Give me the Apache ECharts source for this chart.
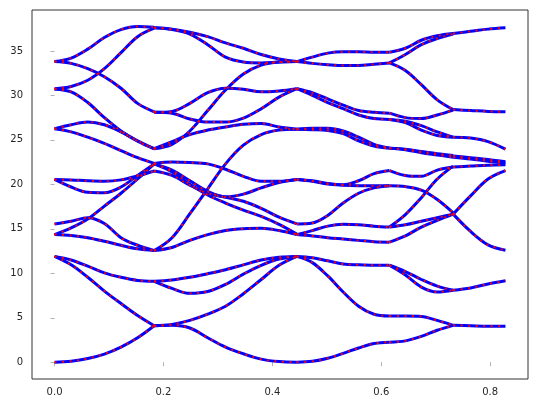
<!DOCTYPE html>
<html>
<head>
<meta charset="utf-8">
<script src="https://cdn.jsdelivr.net/npm/echarts@6/dist/echarts.min.js"></script>
<style>html,body{margin:0;padding:0;background:#fff}#c{width:538px;height:409px}</style>
</head>
<body>
<div id="c"></div>
<script>
// path breakpoints (x) of the band segments
const segX = [0, 0.183, 0.445, 0.615, 0.732, 0.828];
const xTicks = [0, 0.2, 0.4, 0.6, 0.8];
const yTicks = [0, 5, 10, 15, 20, 25, 30, 35];

// band values, sampled evenly within each segment
const seg1 = [
  [0, 0.12, 0.42, 0.92, 1.7, 2.75, 4.1],
  [11.9, 10.95, 9.55, 8.0, 6.6, 5.25, 4.1],
  [11.9, 11.5, 10.8, 10.05, 9.55, 9.2, 9.1],
  [14.35, 14.25, 14.0, 13.6, 13.15, 12.75, 12.55],
  [15.55, 15.85, 16.25, 15.6, 14.0, 13.15, 12.55],
  [14.35, 15.1, 16.1, 17.55, 19.0, 20.6, 22.3],
  [20.55, 20.5, 20.4, 20.35, 20.5, 20.95, 21.5],
  [20.55, 19.7, 19.1, 19.05, 19.7, 21.0, 22.3],
  [26.25, 25.9, 25.3, 24.6, 23.8, 23.0, 22.35],
  [26.25, 26.7, 27.0, 26.7, 25.9, 24.9, 24.0],
  [30.7, 30.4, 29.2, 27.5, 26.0, 24.85, 24.0],
  [30.75, 31.0, 31.7, 33.0, 34.8, 36.6, 37.55],
  [33.8, 34.2, 35.2, 36.5, 37.4, 37.75, 37.65],
  [33.8, 33.6, 33.0, 32.1, 30.8, 29.1, 28.15]
];
const seg2 = [
  [4.1, 4.15, 3.85, 2.75, 1.7, 0.95, 0.35, 0.07, 0],
  [4.1, 4.25, 4.7, 5.4, 6.3, 7.7, 9.3, 10.9, 11.9],
  [9.1, 8.3, 7.75, 7.95, 8.75, 9.9, 10.9, 11.6, 11.9],
  [9.1, 9.25, 9.55, 9.95, 10.4, 10.95, 11.5, 11.8, 11.9],
  [12.55, 12.9, 13.7, 14.35, 14.8, 15.0, 15.05, 14.8, 14.35],
  [12.55, 14.0, 16.7, 19.5, 22.3, 24.4, 25.6, 26.1, 26.2],
  [22.35, 22.5, 22.45, 22.3, 21.7, 20.9, 20.35, 20.35, 20.55],
  [21.5, 21.0, 19.9, 19.0, 18.55, 18.1, 17.3, 16.3, 15.55],
  [22.3, 21.4, 20.0, 18.8, 17.9, 17.1, 16.4, 15.5, 14.4],
  [22.3, 21.6, 20.4, 19.2, 18.6, 18.9, 19.6, 20.2, 20.55],
  [24.0, 24.8, 25.6, 26.1, 26.45, 26.75, 26.85, 26.45, 26.2],
  [24.0, 24.5, 26.0, 28.3, 30.6, 32.4, 33.4, 33.75, 33.8],
  [28.1, 28.2, 29.1, 30.3, 30.8, 30.7, 30.4, 30.5, 30.75],
  [28.1, 28.0, 27.35, 27.0, 27.0, 27.45, 28.5, 29.8, 30.75],
  [37.6, 37.45, 37.1, 36.6, 35.9, 35.3, 34.6, 34.1, 33.8],
  [37.6, 37.4, 36.9, 35.7, 34.3, 33.75, 33.65, 33.75, 33.8]
];
const seg3 = [
  [0, 0.1, 0.45, 1.0, 1.6, 2.1, 2.25],
  [11.9, 11.2, 9.7, 7.9, 6.3, 5.4, 5.2],
  [11.9, 11.75, 11.4, 11.05, 10.95, 10.9, 10.9],
  [14.35, 14.2, 14.0, 13.85, 13.7, 13.55, 13.5],
  [14.35, 14.8, 15.3, 15.5, 15.45, 15.3, 15.2],
  [15.55, 15.65, 16.5, 17.9, 19.0, 19.6, 19.85],
  [20.55, 20.35, 20.05, 19.95, 20.4, 21.2, 21.55],
  [20.55, 20.4, 20.1, 19.9, 19.85, 19.85, 19.85],
  [26.2, 26.3, 26.3, 26.0, 25.3, 24.5, 24.1],
  [26.2, 26.15, 26.05, 25.7, 24.9, 24.3, 24.05],
  [30.75, 30.3, 29.6, 28.9, 28.3, 28.1, 28.0],
  [30.75, 30.0, 29.2, 28.5, 27.8, 27.4, 27.3],
  [33.8, 34.3, 34.75, 34.9, 34.9, 34.85, 34.85],
  [33.8, 33.6, 33.45, 33.35, 33.35, 33.5, 33.65]
];
const seg4 = [
  [34.85, 35.3, 36.2, 36.7, 36.95],
  [33.65, 34.6, 35.7, 36.4, 36.9],
  [33.65, 32.8, 31.2, 29.5, 28.4],
  [28.0, 27.5, 27.4, 27.8, 28.35],
  [27.3, 26.95, 26.1, 25.5, 25.3],
  [27.3, 27.1, 26.6, 25.9, 25.3],
  [24.05, 23.95, 23.7, 23.45, 23.25],
  [24.05, 23.9, 23.55, 23.3, 23.05],
  [21.55, 21.0, 20.9, 21.6, 21.95],
  [19.85, 19.75, 19.35, 18.3, 16.8],
  [15.2, 16.6, 18.5, 20.6, 22.05],
  [15.2, 15.45, 15.85, 16.25, 16.65],
  [13.5, 14.2, 15.2, 15.95, 16.65],
  [10.9, 10.2, 9.3, 8.55, 8.1],
  [10.9, 9.8, 8.45, 7.9, 8.1],
  [5.2, 5.2, 5.15, 4.7, 4.15],
  [2.25, 2.4, 2.9, 3.6, 4.15]
];
const seg5 = [
  [36.95, 37.2, 37.45, 37.6],
  [28.4, 28.3, 28.2, 28.15],
  [25.3, 25.2, 24.8, 23.95],
  [23.2, 23.0, 22.8, 22.55],
  [23.05, 22.85, 22.6, 22.4],
  [21.95, 22.05, 22.15, 22.2],
  [16.65, 18.7, 20.6, 21.55],
  [16.65, 14.7, 13.2, 12.6],
  [8.1, 8.35, 8.8, 9.15],
  [4.15, 4.1, 4.05, 4.05]
];
const segments = [seg1, seg2, seg3, seg4, seg5];

const curves = [];
segments.forEach((bands, s) => {
  const x0 = segX[s], x1 = segX[s + 1];
  bands.forEach(b => {
    const n = b.length;
    curves.push(b.map((y, i) => [x0 + (x1 - x0) * i / (n - 1), y]));
  });
});

const series = [];
curves.forEach(d => series.push({
  type: 'line', data: d, smooth: 0.35, symbol: 'none', silent: true,
  lineStyle: { color: '#0000ff', width: 3 }, z: 2
}));
curves.forEach(d => series.push({
  type: 'line', data: d, smooth: 0.35, symbol: 'none', silent: true,
  lineStyle: { color: '#ff0000', width: 2, type: [2, 5.5] }, z: 3
}));

const chart = echarts.init(document.getElementById('c'), null, { renderer: 'canvas' });
const font = { fontFamily: 'DejaVu Sans', fontSize: 10, color: '#262626' };
chart.setOption({
  animation: false,
  grid: { left: 32, top: 10, right: 10, bottom: 30, show: true, borderColor: '#333', borderWidth: 1, backgroundColor: 'transparent' },
  xAxis: {
    type: 'value', min: -0.0414, max: 0.8694,
    axisLine: { show: false },
    splitLine: { show: false },
    axisTick: { show: true, length: 4, lineStyle: { color: '#b0b0b0' }, customValues: xTicks },
    axisLabel: Object.assign({ margin: 8, customValues: xTicks, formatter: v => v.toFixed(1) }, font)
  },
  yAxis: {
    type: 'value', min: -1.885, max: 39.6,
    axisLine: { show: false },
    splitLine: { show: false },
    axisTick: { show: true, length: 4, lineStyle: { color: '#b0b0b0' }, customValues: yTicks },
    axisLabel: Object.assign({ margin: 9, customValues: yTicks, formatter: v => String(v) }, font)
  },
  series: series
});
</script>
</body>
</html>
